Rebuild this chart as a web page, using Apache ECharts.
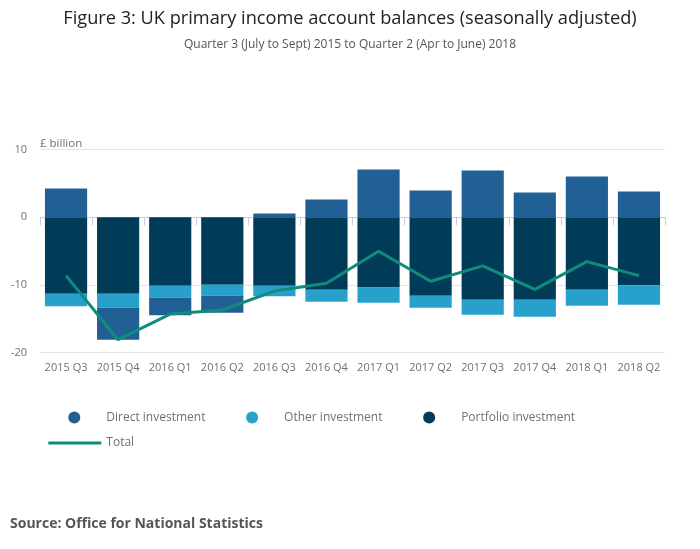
<!DOCTYPE html>
<html>
<head>
<meta charset="utf-8">
<script src="https://cdn.jsdelivr.net/npm/echarts@6/dist/echarts.min.js"></script>
<style>
html,body{margin:0;padding:0;background:#fff;}
#chart{width:700px;height:549px;}
</style>
</head>
<body>
<div id="chart"></div>
<script>
const categories = ['2015 Q3','2015 Q4','2016 Q1','2016 Q2','2016 Q3','2016 Q4','2017 Q1','2017 Q2','2017 Q3','2017 Q4','2018 Q1','2018 Q2'];
const directInvestment = [4.24, -4.73, -2.61, -2.51, 0.54, 2.61, 7.04, 3.94, 6.90, 3.65, 6.01, 3.79];
const otherInvestment = [-1.87, -2.07, -1.77, -1.63, -1.58, -1.77, -2.22, -1.77, -2.22, -2.51, -2.36, -2.86];
const portfolioInvestment = [-11.28, -11.28, -10.10, -9.95, -10.10, -10.69, -10.39, -11.58, -12.17, -12.17, -10.69, -10.05];
const total = [-8.62, -18.08, -14.3, -13.7, -10.9, -9.75, -5.02, -9.46, -7.19, -10.64, -6.55, -8.62];

const FONT = '"Open Sans", "Noto Sans", sans-serif';
const chart = echarts.init(document.getElementById('chart'));
chart.setOption({
  animation: false,
  textStyle: { fontFamily: FONT },
  title: [
    { text: 'Figure 3: UK primary income account balances (seasonally adjusted)', left: 'center', top: 5,
      textStyle: { fontFamily: FONT, fontSize: 18.2, fontWeight: 'normal', color: '#222' } },
    { text: 'Quarter 3 (July to Sept) 2015 to Quarter 2 (Apr to June) 2018', left: 'center', top: 34,
      textStyle: { fontFamily: FONT, fontSize: 12, fontWeight: 'normal', color: '#555' } },
    { text: 'Source: Office for National Statistics', left: 5, top: 512,
      textStyle: { fontFamily: FONT, fontSize: 14, fontWeight: 'bold', color: '#555' } }
  ],
  legend: [
    { data: ['Direct investment','Other investment','Portfolio investment'], left: 68.3, top: 411.5, padding: 0,
      icon: 'circle', itemWidth: 12, itemHeight: 12, itemGap: 40.7,
      textStyle: { fontFamily: FONT, fontSize: 12, color: '#707070', padding: [0, 0, 0, 21] } },
    { data: [{ name: 'Total', icon: 'path://M0,0 L53,0 L53,3 L0,3 Z' }], left: 48.3, top: 437, padding: 0,
      itemWidth: 53, itemHeight: 3,
      textStyle: { fontFamily: FONT, fontSize: 12, color: '#707070' } }
  ],
  grid: { left: 40, right: 35, top: 149.5, bottom: 196.3, containLabel: false },
  xAxis: {
    type: 'category', data: categories,
    axisLine: { lineStyle: { color: '#bccfe6', width: 1 } },
    axisTick: { show: true, length: 8, lineStyle: { color: '#bccfe6' } },
    axisLabel: { fontFamily: FONT, fontSize: 11, color: '#707070', margin: 10, interval: 0 }
  },
  yAxis: {
    type: 'value', min: -20, max: 10, interval: 10,
    name: '£ billion', nameLocation: 'end', nameGap: 0,
    nameTextStyle: { fontFamily: FONT, fontSize: 11.5, color: '#707070', align: 'left' },
    axisLine: { show: false }, axisTick: { show: false },
    axisLabel: { fontFamily: FONT, fontSize: 11, color: '#707070', margin: 13 },
    splitLine: { lineStyle: { color: '#e3e3e3' } }
  },
  series: [
    { name: 'Portfolio investment', type: 'bar', stack: 'a', data: portfolioInvestment,
      itemStyle: { color: '#003c57' }, barCategoryGap: '19%' },
    { name: 'Other investment', type: 'bar', stack: 'a', data: otherInvestment,
      itemStyle: { color: '#27a0cc' } },
    { name: 'Direct investment', type: 'bar', stack: 'a', data: directInvestment,
      itemStyle: { color: '#206095' } },
    { name: 'Total', type: 'line', data: total, symbol: 'none',
      lineStyle: { color: '#118c7b', width: 3 }, itemStyle: { color: '#118c7b' }, z: 5 }
  ]
});
</script>
</body>
</html>
